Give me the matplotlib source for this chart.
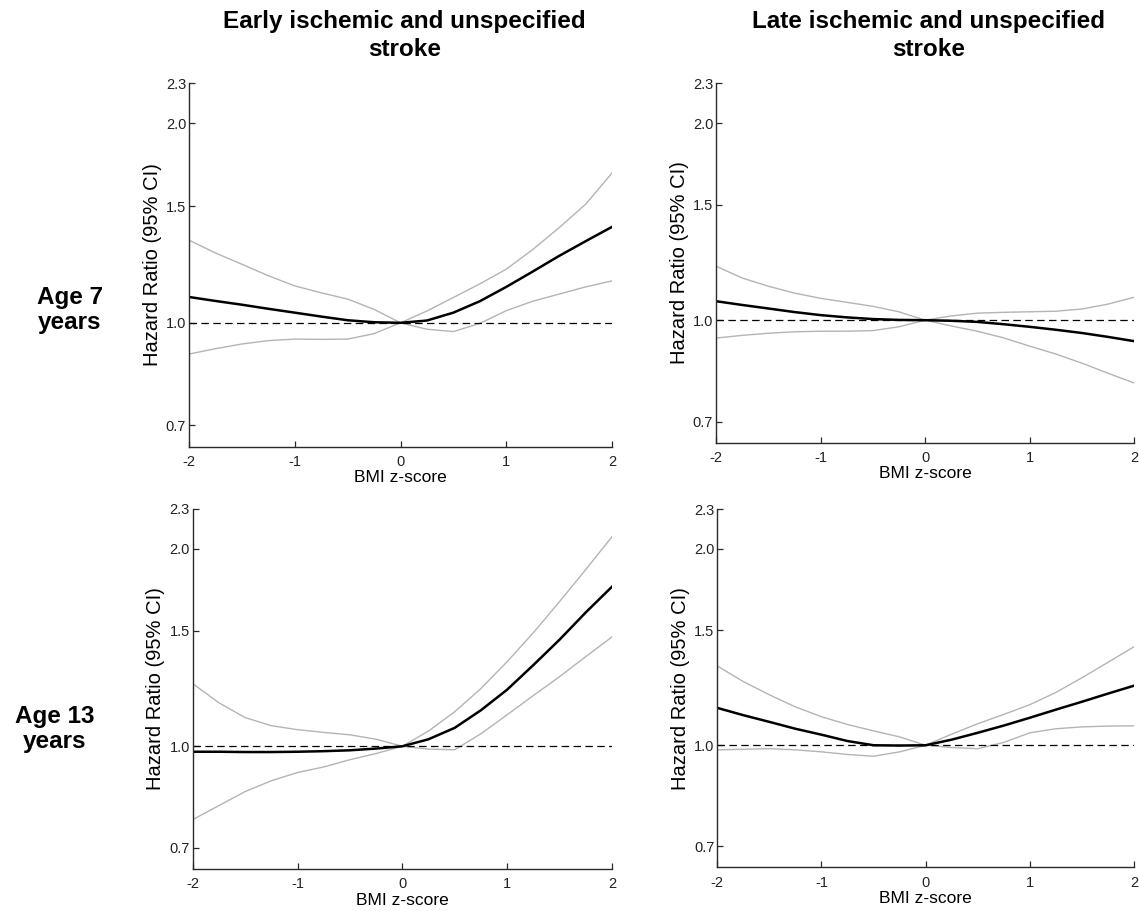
import matplotlib
matplotlib.use("Agg")
import matplotlib.pyplot as plt
from matplotlib.ticker import FixedLocator, FixedFormatter, NullLocator

plt.rcParams['font.family'] = ['Liberation Sans', 'DejaVu Sans']

bmi_z = [-2, -1.75, -1.5, -1.25, -1, -0.75, -0.5, -0.25, 0, 0.25, 0.5, 0.75, 1, 1.25, 1.5, 1.75, 2]

# Age 7, early
early7_hr = [1.094, 1.079, 1.065, 1.050, 1.036, 1.022, 1.009, 1.002, 1.0, 1.008, 1.036, 1.078, 1.133, 1.195, 1.262, 1.328, 1.396]
early7_hi = [1.333, 1.275, 1.226, 1.178, 1.137, 1.110, 1.086, 1.048, 1.0, 1.042, 1.092, 1.145, 1.205, 1.290, 1.392, 1.51, 1.683]
early7_lo = [0.897, 0.914, 0.929, 0.940, 0.945, 0.944, 0.945, 0.963, 1.0, 0.978, 0.970, 0.998, 1.043, 1.078, 1.105, 1.133, 1.157]

# Age 7, late
late7_hr = [1.069, 1.055, 1.042, 1.029, 1.018, 1.010, 1.004, 1.001, 1.0, 0.998, 0.994, 0.986, 0.977, 0.967, 0.956, 0.943, 0.929]
late7_hi = [1.209, 1.160, 1.127, 1.100, 1.080, 1.065, 1.050, 1.030, 1.0, 1.015, 1.025, 1.028, 1.030, 1.032, 1.040, 1.058, 1.084]
late7_lo = [0.939, 0.948, 0.955, 0.960, 0.962, 0.962, 0.964, 0.977, 1.0, 0.980, 0.962, 0.940, 0.913, 0.888, 0.860, 0.830, 0.802]

# Age 13, early
early13_hr = [0.981, 0.981, 0.980, 0.980, 0.981, 0.983, 0.986, 0.992, 1.0, 1.025, 1.067, 1.135, 1.220, 1.33, 1.454, 1.60, 1.751]
early13_hi = [1.246, 1.165, 1.106, 1.075, 1.060, 1.050, 1.041, 1.025, 1.0, 1.055, 1.129, 1.225, 1.346, 1.49, 1.662, 1.86, 2.087]
early13_lo = [0.773, 0.812, 0.853, 0.886, 0.912, 0.930, 0.954, 0.975, 1.0, 0.990, 0.988, 1.045, 1.117, 1.195, 1.277, 1.37, 1.468]

# Age 13, late
late13_hr = [1.141, 1.112, 1.086, 1.060, 1.038, 1.015, 1.000, 0.999, 1.0, 1.020, 1.045, 1.072, 1.102, 1.134, 1.166, 1.200, 1.234]
late13_hi = [1.323, 1.252, 1.195, 1.145, 1.106, 1.076, 1.052, 1.030, 1.0, 1.040, 1.079, 1.115, 1.154, 1.205, 1.269, 1.340, 1.416]
late13_lo = [0.984, 0.986, 0.988, 0.984, 0.977, 0.968, 0.962, 0.977, 1.0, 0.992, 0.988, 1.010, 1.045, 1.060, 1.067, 1.070, 1.071]

y_ticks = [0.7, 1.0, 1.5, 2.0, 2.3]
y_tick_labels = ["0.7", "1.0", "1.5", "2.0", "2.3"]
x_ticks = [-2, -1, 0, 1, 2]
x_tick_labels = ["-2", "-1", "0", "1", "2"]

col_titles = ["Early ischemic and unspecified\nstroke", "Late ischemic and unspecified\nstroke"]
row_titles = ["Age 7\nyears", "Age 13\nyears"]

W, H = 1139, 911
fig = plt.figure(figsize=(W / 100, H / 100), dpi=100)

# axes rectangles in pixels: left, right, top, bottom
rects = [
    (189, 612, 83.3, 446.7),
    (716, 1134, 83.3, 442.7),
    (192.7, 612, 509, 869),
    (717.3, 1134, 509.3, 867.3),
]
panels = [
    (early7_hr, early7_hi, early7_lo),
    (late7_hr, late7_hi, late7_lo),
    (early13_hr, early13_hi, early13_lo),
    (late13_hr, late13_hi, late13_lo),
]

for (l, r, t, b), (hr, hi, lo) in zip(rects, panels):
    ax = fig.add_axes([l / W, 1 - b / H, (r - l) / W, (b - t) / H])
    ax.set_yscale('log')
    ax.plot(bmi_z, hi, color='#b4b4b4', lw=1.0)
    ax.plot(bmi_z, lo, color='#b4b4b4', lw=1.0)
    ax.plot(bmi_z, hr, color='black', lw=1.8)
    ax.plot([-2, 2], [1.0, 1.0], color='black', lw=0.9, dashes=(6, 3.5))
    ax.set_xlim(-2, 2)
    ax.set_ylim(0.65, 2.3)
    ax.yaxis.set_major_locator(FixedLocator(y_ticks))
    ax.yaxis.set_major_formatter(FixedFormatter(y_tick_labels))
    ax.yaxis.set_minor_locator(NullLocator())
    ax.set_xticks(x_ticks)
    ax.set_xticklabels(x_tick_labels)
    for s in ['top', 'right']:
        ax.spines[s].set_visible(False)
    for s in ['left', 'bottom']:
        ax.spines[s].set_color('#2a2a2a')
        ax.spines[s].set_linewidth(1.0)
    ax.tick_params(direction='in', length=4, width=0.9, color='#2a2a2a',
                   labelsize=10.5, labelcolor='#222222')
    ax.tick_params(axis='x', pad=6)
    ax.tick_params(axis='y', pad=2)
    ax.set_xlabel("BMI z-score", fontsize=12.5, labelpad=1)
    ax.set_ylabel("Hazard Ratio (95% CI)", fontsize=14.5, labelpad=3)

# column titles
for (l, r, t, b), title in zip(rects[:2], col_titles):
    fig.text(((l + r) / 2 + 4) / W, 1 - 35.5 / H, title, ha='center', va='center',
             fontsize=17.5, fontweight='bold', linespacing=1.25)

# row titles
fig.text(70 / W, 1 - 310 / H, row_titles[0], ha='center', va='center',
         fontsize=17.5, fontweight='bold', linespacing=1.12)
fig.text(55 / W, 1 - 729 / H, row_titles[1], ha='center', va='center',
         fontsize=17.5, fontweight='bold', linespacing=1.12)

fig.savefig("out.png", dpi=100)
